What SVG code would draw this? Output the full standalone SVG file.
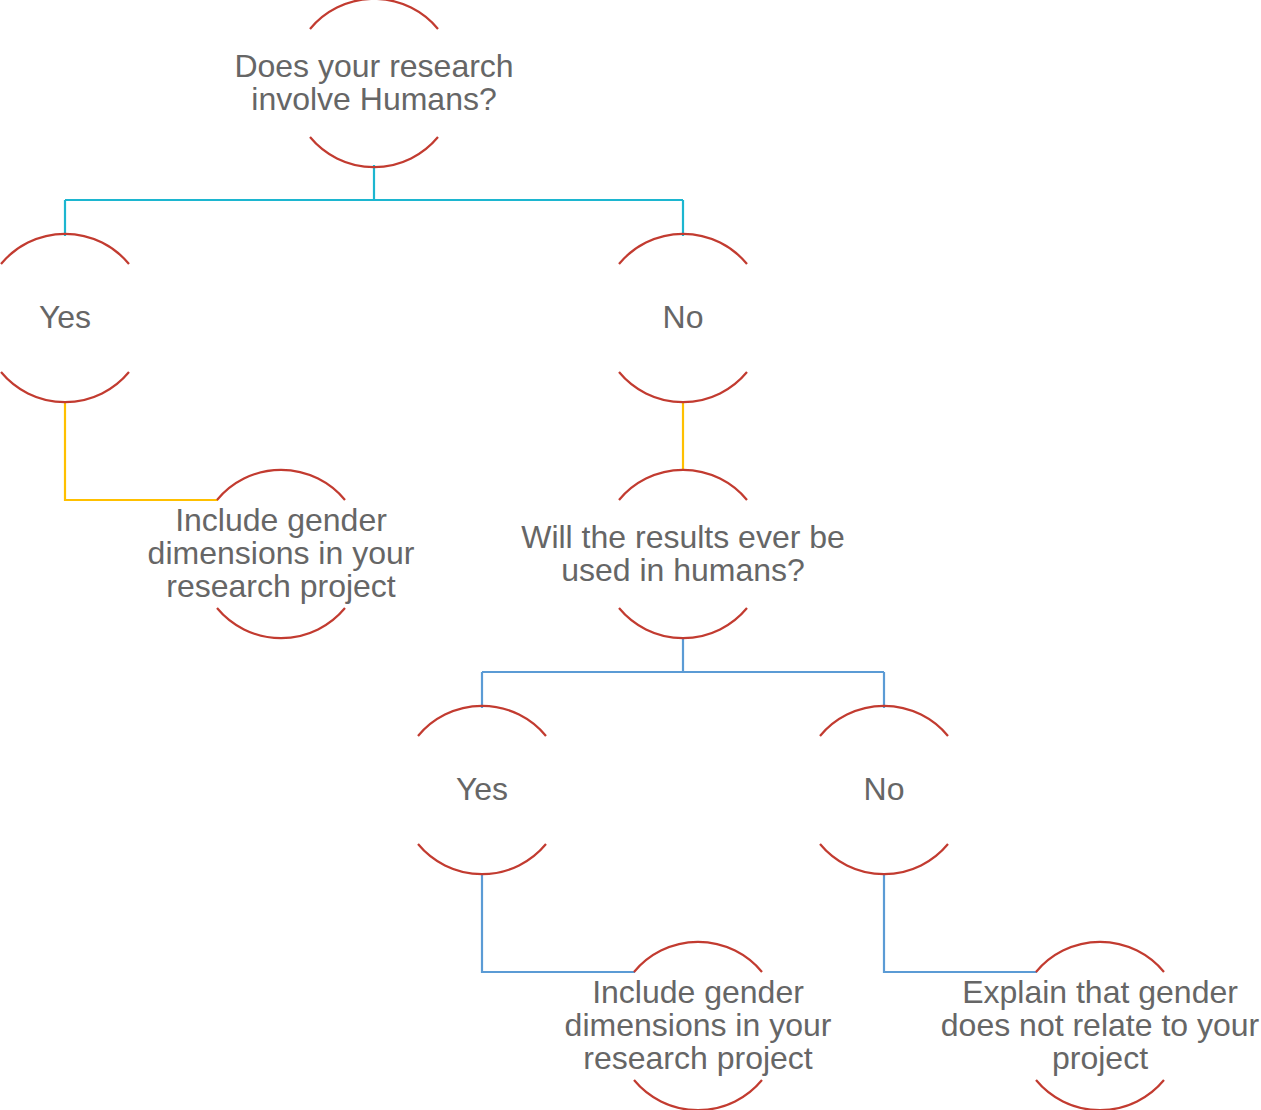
<svg xmlns="http://www.w3.org/2000/svg" width="1261" height="1110" viewBox="0 0 1261 1110">
<style>
.arc{fill:none;stroke:#c23b30;stroke-width:2.2}
.lbl{font-family:"Liberation Sans",Arial,sans-serif;font-size:32px;fill:#666;text-anchor:middle}
.c{fill:none;stroke-width:2.2}
.cy{stroke:#1cb6d0}.ye{stroke:#ffc000}.bl{stroke:#5b9bd5}
</style>
<defs>
<g id="ring">
<path class="arc" d="M-64,-54 A83,83 0 0 1 64,-54"/>
<path class="arc" d="M-64,54 A83,83 0 0 0 64,54"/>
</g>
</defs>
<rect width="1261" height="1110" fill="#fff"/>
<g id="connectors">
<path class="c cy" d="M374,165 V200 M65,200 H683 M65,200 V236 M683,200 V236"/>
<path class="c ye" d="M65,401 V500 H218"/>
<path class="c ye" d="M683,401 V471"/>
<path class="c bl" d="M683,637 V672 M482,672 H884 M482,672 V708 M884,672 V708"/>
<path class="c bl" d="M482,873 V972 H635"/>
<path class="c bl" d="M884,873 V972 H1037"/>
</g>
<g id="q1" transform="translate(374,83)"><use href="#ring"/><text class="lbl"><tspan x="0" y="-6.5">Does your research</tspan><tspan x="0" y="26.5">involve Humans?</tspan></text></g>
<g id="yes1" transform="translate(65,318)"><use href="#ring"/><text class="lbl" x="0" y="10">Yes</text></g>
<g id="no1" transform="translate(683,318)"><use href="#ring"/><text class="lbl" x="0" y="10">No</text></g>
<g id="inc1" transform="translate(281,554)"><use href="#ring"/><text class="lbl"><tspan x="0" y="-23">Include gender</tspan><tspan x="0" y="10">dimensions in your</tspan><tspan x="0" y="43">research project</tspan></text></g>
<g id="q2" transform="translate(683,554)"><use href="#ring"/><text class="lbl"><tspan x="0" y="-6.5">Will the results ever be</tspan><tspan x="0" y="26.5">used in humans?</tspan></text></g>
<g id="yes2" transform="translate(482,790)"><use href="#ring"/><text class="lbl" x="0" y="10">Yes</text></g>
<g id="no2" transform="translate(884,790)"><use href="#ring"/><text class="lbl" x="0" y="10">No</text></g>
<g id="inc2" transform="translate(698,1026)"><use href="#ring"/><text class="lbl"><tspan x="0" y="-23">Include gender</tspan><tspan x="0" y="10">dimensions in your</tspan><tspan x="0" y="43">research project</tspan></text></g>
<g id="explain" transform="translate(1100,1026)"><use href="#ring"/><text class="lbl"><tspan x="0" y="-23">Explain that gender</tspan><tspan x="0" y="10">does not relate to your</tspan><tspan x="0" y="43">project</tspan></text></g>
</svg>
